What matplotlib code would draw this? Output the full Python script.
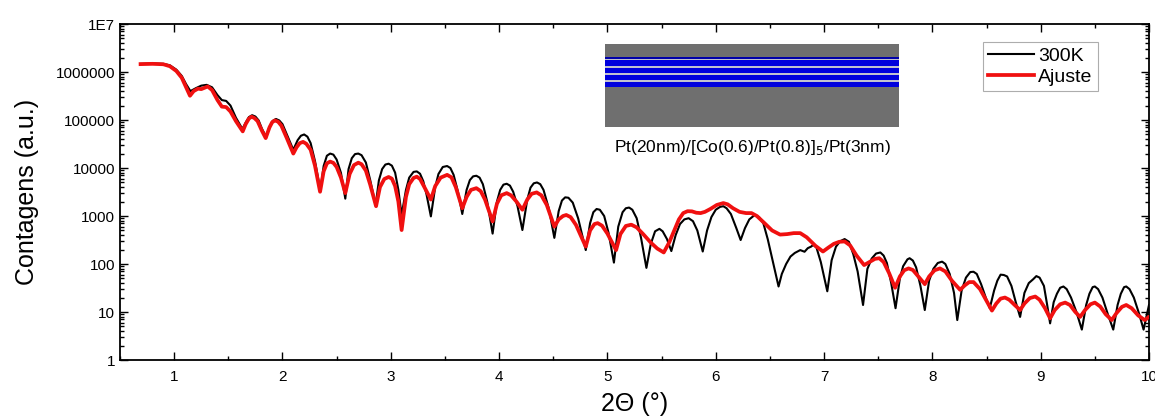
import matplotlib
matplotlib.use('Agg')
import matplotlib.pyplot as plt
from matplotlib.ticker import FixedLocator, FuncFormatter, LogLocator, MultipleLocator, NullFormatter

plt.rcParams['font.family'] = ['Liberation Sans', 'DejaVu Sans']

# medida 300K (2theta, contagens)
x_300k = [0.69, 0.80, 0.90, 0.96, 1.02, 1.07, 1.11, 1.15, 1.20, 1.25,
          1.30, 1.35, 1.40, 1.44, 1.48, 1.52, 1.57, 1.63, 1.66, 1.69,
          1.72, 1.75, 1.78, 1.81, 1.85, 1.88, 1.91, 1.94, 1.97, 2.00,
          2.04, 2.10, 2.14, 2.17, 2.20, 2.23, 2.26, 2.30, 2.35, 2.38,
          2.41, 2.44, 2.47, 2.50, 2.54, 2.58, 2.61, 2.64, 2.67, 2.70,
          2.73, 2.77, 2.81, 2.86, 2.89, 2.92, 2.95, 2.98, 3.01, 3.04,
          3.07, 3.10, 3.14, 3.17, 3.21, 3.24, 3.27, 3.30, 3.33, 3.37,
          3.41, 3.44, 3.48, 3.52, 3.55, 3.58, 3.62, 3.66, 3.70, 3.73,
          3.76, 3.79, 3.82, 3.85, 3.89, 3.94, 3.98, 4.01, 4.04, 4.07,
          4.10, 4.13, 4.17, 4.215, 4.26, 4.29, 4.32, 4.35, 4.38, 4.41,
          4.46, 4.51, 4.55, 4.58, 4.61, 4.64, 4.68, 4.73, 4.80, 4.84,
          4.87, 4.90, 4.93, 4.97, 5.01, 5.06, 5.10, 5.14, 5.17, 5.20,
          5.23, 5.27, 5.31, 5.36, 5.40, 5.44, 5.48, 5.51, 5.55, 5.59,
          5.63, 5.67, 5.71, 5.75, 5.79, 5.83, 5.88, 5.92, 5.96, 6.00,
          6.04, 6.07, 6.10, 6.14, 6.19, 6.23, 6.27, 6.31, 6.36, 6.40,
          6.44, 6.48, 6.53, 6.58, 6.61, 6.65, 6.69, 6.73, 6.78, 6.82,
          6.85, 6.88, 6.90, 6.93, 6.97, 7.03, 7.07, 7.11, 7.15, 7.19,
          7.23, 7.27, 7.31, 7.36, 7.40, 7.44, 7.48, 7.52, 7.55, 7.58,
          7.62, 7.66, 7.70, 7.73, 7.77, 7.79, 7.82, 7.85, 7.89, 7.93,
          7.97, 8.01, 8.05, 8.09, 8.12, 8.16, 8.20, 8.23, 8.27, 8.31,
          8.35, 8.38, 8.41, 8.45, 8.50, 8.53, 8.57, 8.60, 8.63, 8.66,
          8.69, 8.73, 8.77, 8.81, 8.85, 8.89, 8.93, 8.96, 8.99, 9.03,
          9.06, 9.087, 9.12, 9.15, 9.18, 9.21, 9.24, 9.28, 9.33, 9.38,
          9.42, 9.45, 9.48, 9.50, 9.53, 9.57, 9.62, 9.67, 9.71, 9.74,
          9.77, 9.79, 9.82, 9.86, 9.91, 9.95, 10.0]
y_300k = [1.48e6, 1.51e6, 1.48e6, 1.38e6, 1.12e6, 8.3e5, 5.6e5, 4.0e5, 4.6e5, 5.2e5,
          5.4e5, 4.8e5, 3.3e5, 2.6e5, 2.5e5, 2.0e5, 1.12e5, 6.5e4, 8.8e4, 1.15e5,
          1.26e5, 1.18e5, 9.8e4, 6.6e4, 4.4e4, 7.2e4, 9.6e4, 1.05e5, 9.8e4, 8.2e4,
          5.0e4, 2.4e4, 3.8e4, 4.7e4, 5.0e4, 4.5e4, 3.3e4, 1.4e4, 3.4e3, 1.1e4,
          1.8e4, 2.0e4, 1.9e4, 1.5e4, 7.9e3, 2.3e3, 9.5e3, 1.6e4, 1.95e4, 2.0e4,
          1.85e4, 1.3e4, 5.6e3, 1.66e3, 5.5e3, 9.5e3, 1.18e4, 1.23e4, 1.12e4, 8.0e3,
          3.5e3, 1.05e3, 3.5e3, 6.3e3, 8.3e3, 8.5e3, 7.6e3, 5.3e3, 2.8e3, 980,
          4.0e3, 7.5e3, 1.05e4, 1.1e4, 1.0e4, 7.2e3, 3.2e3, 1.1e3, 3.5e3, 5.6e3,
          6.7e3, 6.9e3, 6.3e3, 4.6e3, 2.0e3, 430, 2.0e3, 3.5e3, 4.5e3, 4.7e3,
          4.3e3, 3.2e3, 1.6e3, 510, 2.2e3, 3.9e3, 4.8e3, 5.0e3, 4.6e3, 3.5e3,
          1.4e3, 350, 1.26e3, 2.1e3, 2.45e3, 2.4e3, 1.9e3, 890, 195, 710,
          1.2e3, 1.4e3, 1.35e3, 1.0e3, 450, 107, 600, 1.2e3, 1.45e3, 1.5e3,
          1.35e3, 900, 355, 83, 260, 480, 540, 480, 330, 186,
          400, 680, 850, 900, 780, 500, 182, 500, 950, 1.35e3,
          1.55e3, 1.6e3, 1.45e3, 1.1e3, 560, 316, 560, 850, 1.05e3, 950,
          700, 330, 105, 34, 62, 100, 143, 170, 195, 180,
          214, 230, 250, 220, 110, 27, 120, 230, 300, 331,
          290, 160, 70, 14, 79, 130, 165, 174, 150, 105,
          40, 12, 50, 90, 125, 132, 118, 85, 35, 11,
          45, 80, 105, 112, 100, 62, 25, 6.8, 28, 52,
          68, 69, 62, 38, 18, 12, 28, 45, 60, 59,
          55, 35, 16, 7.9, 25, 40, 48, 56, 52, 35,
          14, 5.8, 16, 24, 32, 34, 30, 20, 10, 4.3,
          14, 24, 33, 34, 30, 20, 9, 4.3, 14, 24,
          33, 34, 30, 20, 9, 4.3, 14]

# ajuste (2theta, contagens)
x_ajuste = [0.69, 0.80, 0.90, 0.96, 1.02, 1.07, 1.11, 1.146, 1.18, 1.22,
            1.25, 1.28, 1.31, 1.35, 1.40, 1.44, 1.48, 1.52, 1.57, 1.633,
            1.66, 1.69, 1.715, 1.74, 1.77, 1.81, 1.845, 1.88, 1.905, 1.93,
            1.96, 1.99, 2.04, 2.10, 2.13, 2.16, 2.19, 2.22, 2.26, 2.30,
            2.347, 2.38, 2.41, 2.44, 2.47, 2.50, 2.54, 2.58, 2.62, 2.66,
            2.70, 2.73, 2.77, 2.81, 2.864, 2.90, 2.94, 2.98, 3.01, 3.04,
            3.07, 3.10, 3.14, 3.17, 3.21, 3.24, 3.27, 3.31, 3.37, 3.41,
            3.46, 3.52, 3.56, 3.60, 3.66, 3.70, 3.74, 3.79, 3.83, 3.87,
            3.94, 3.98, 4.02, 4.07, 4.11, 4.16, 4.215, 4.26, 4.30, 4.347,
            4.39, 4.44, 4.51, 4.55, 4.59, 4.62, 4.66, 4.71, 4.80, 4.84,
            4.88, 4.91, 4.95, 5.00, 5.08, 5.12, 5.17, 5.22, 5.27, 5.33,
            5.40, 5.46, 5.52, 5.57, 5.62, 5.66, 5.70, 5.74, 5.78, 5.82,
            5.86, 5.90, 5.95, 6.01, 6.07, 6.11, 6.16, 6.22, 6.28, 6.33,
            6.38, 6.45, 6.52, 6.594, 6.66, 6.72, 6.78, 6.84, 6.92, 6.99,
            7.04, 7.09, 7.14, 7.19, 7.24, 7.30, 7.37, 7.42, 7.47, 7.51,
            7.55, 7.60, 7.656, 7.70, 7.74, 7.78, 7.82, 7.87, 7.93, 7.97,
            8.02, 8.07, 8.12, 8.18, 8.256, 8.30, 8.34, 8.38, 8.44, 8.50,
            8.55, 8.59, 8.63, 8.67, 8.71, 8.76, 8.81, 8.85, 8.90, 8.95,
            8.99, 9.04, 9.087, 9.13, 9.18, 9.226, 9.27, 9.32, 9.364, 9.41,
            9.46, 9.50, 9.55, 9.60, 9.656, 9.70, 9.75, 9.79, 9.84, 9.90,
            9.96, 10.0]
y_ajuste = [1.46e6, 1.48e6, 1.45e6, 1.32e6, 1.05e6, 7.6e5, 4.8e5, 3.2e5, 4.0e5, 4.5e5,
            4.4e5, 4.7e5, 5.0e5, 4.2e5, 2.6e5, 1.9e5, 1.86e5, 1.5e5, 9.5e4, 5.8e4,
            8.2e4, 1.07e5, 1.17e5, 1.1e5, 9.5e4, 6.0e4, 4.2e4, 7.0e4, 9.0e4, 9.8e4,
            9.2e4, 7.6e4, 4.2e4, 2.0e4, 2.7e4, 3.3e4, 3.5e4, 3.2e4, 2.4e4, 1.12e4,
            3.2e3, 8.5e3, 1.25e4, 1.36e4, 1.28e4, 1.05e4, 6.3e3, 3.0e3, 7.5e3, 1.15e4,
            1.29e4, 1.2e4, 8.8e3, 4.5e3, 1.6e3, 4.0e3, 5.9e3, 6.5e3, 6.0e3, 4.2e3,
            2.0e3, 510, 2.5e3, 4.6e3, 6.2e3, 6.6e3, 5.9e3, 4.0e3, 2.2e3, 4.2e3,
            6.3e3, 7.2e3, 6.4e3, 4.0e3, 1.45e3, 2.5e3, 3.5e3, 3.8e3, 3.3e3, 2.2e3,
            770, 1.8e3, 2.7e3, 3.0e3, 2.7e3, 2.0e3, 1.35e3, 2.2e3, 2.9e3, 3.1e3,
            2.7e3, 1.7e3, 600, 850, 1.0e3, 1.05e3, 950, 650, 230, 500,
            680, 710, 630, 430, 195, 420, 620, 660, 580, 420,
            280, 210, 174, 280, 520, 850, 1.15e3, 1.26e3, 1.25e3, 1.17e3,
            1.15e3, 1.22e3, 1.4e3, 1.7e3, 1.86e3, 1.75e3, 1.45e3, 1.22e3, 1.15e3, 1.15e3,
            1.0e3, 710, 500, 410, 420, 440, 440, 360, 240, 182,
            220, 263, 290, 295, 245, 150, 95, 110, 128, 132,
            110, 65, 32, 55, 74, 81, 75, 55, 38, 55,
            74, 81, 70, 45, 29, 36, 42, 42, 30, 17,
            10.7, 15, 19, 20, 18, 14, 11, 15, 19.5, 21,
            18, 12, 7.4, 11, 14.5, 15.7, 14, 10, 7.9, 11,
            14.5, 15.7, 13, 9, 6.8, 9.5, 12.8, 14, 12, 8.5,
            6.8, 7.9]

y_ticks = [1, 10, 100, 1000, 10000, 100000, 1000000, 10000000]
x_ticks = [1, 2, 3, 4, 5, 6, 7, 8, 9, 10]

fig = plt.figure(figsize=(11.55, 4.19), dpi=100)
ax = fig.add_axes([0.1039, 0.1408, 0.8909, 0.8019])

ax.plot(x_300k, y_300k, color='black', lw=1.5, label='300K', zorder=2, solid_joinstyle='round')
ax.plot(x_ajuste, y_ajuste, color='#f01010', lw=2.7, label='Ajuste', zorder=3, solid_joinstyle='round')

ax.set_yscale('log')
ax.set_xlim(0.5, 10)
ax.set_ylim(1, 1e7)
ax.xaxis.set_major_locator(FixedLocator(x_ticks))
ax.xaxis.set_minor_locator(MultipleLocator(0.5))
ax.yaxis.set_major_locator(FixedLocator(y_ticks))
ax.yaxis.set_minor_locator(LogLocator(base=10, subs=range(2, 10), numticks=20))
ax.yaxis.set_minor_formatter(NullFormatter())
ax.yaxis.set_major_formatter(FuncFormatter(lambda v, p: '1E7' if v >= 1e7 else f'{int(round(v))}'))
ax.tick_params(which='both', direction='in', top=True, right=True, labelsize=11, width=1)
ax.tick_params(which='major', length=6)
ax.tick_params(which='minor', length=3)
ax.tick_params(axis='x', pad=7)
for s in ax.spines.values():
    s.set_linewidth(1.3)

ax.set_ylabel('Contagens (a.u.)', fontsize=18, labelpad=12)
ax.set_xlabel('2\u0398 (\u00b0)', fontsize=18, labelpad=6)

leg = ax.legend(loc='upper right', bbox_to_anchor=(0.950, 0.946), fontsize=14, frameon=True, fancybox=False,
                edgecolor='#999999', handlelength=2.4, handletextpad=0.2, borderpad=0.25, labelspacing=0.2,
                borderaxespad=0)
leg.get_frame().set_linewidth(0.8)

# desenho da amostra
ins = fig.add_axes([605 / 1155, 1 - 126.7 / 419, 294 / 1155, 82.7 / 419])
ins.set_xlim(0, 1)
ins.set_ylim(0, 1)
ins.set_facecolor('#6f6f6f')
ins.set_xticks([])
ins.set_yticks([])
for s in ins.spines.values():
    s.set_visible(False)
bands = [(0.485, 0.540, '#0000dd'), (0.540, 0.559, '#c0c0d0'), (0.559, 0.630, '#0000dd'),
         (0.630, 0.649, '#c0c0d0'), (0.649, 0.715, '#0000dd'), (0.715, 0.734, '#c0c0d0'),
         (0.734, 0.806, '#0000dd'), (0.806, 0.824, '#c0c0d0'), (0.824, 0.848, '#0000aa')]
for y0, y1, c in bands:
    ins.axhspan(y0, y1, color=c, lw=0)

fig.text(752 / 1155, 1 - 147 / 419, 'Pt(20nm)/[Co(0.6)/Pt(0.8)]$_5$/Pt(3nm)', fontsize=12.5,
         ha='center', va='center')

fig.savefig('out.png', dpi=100)
